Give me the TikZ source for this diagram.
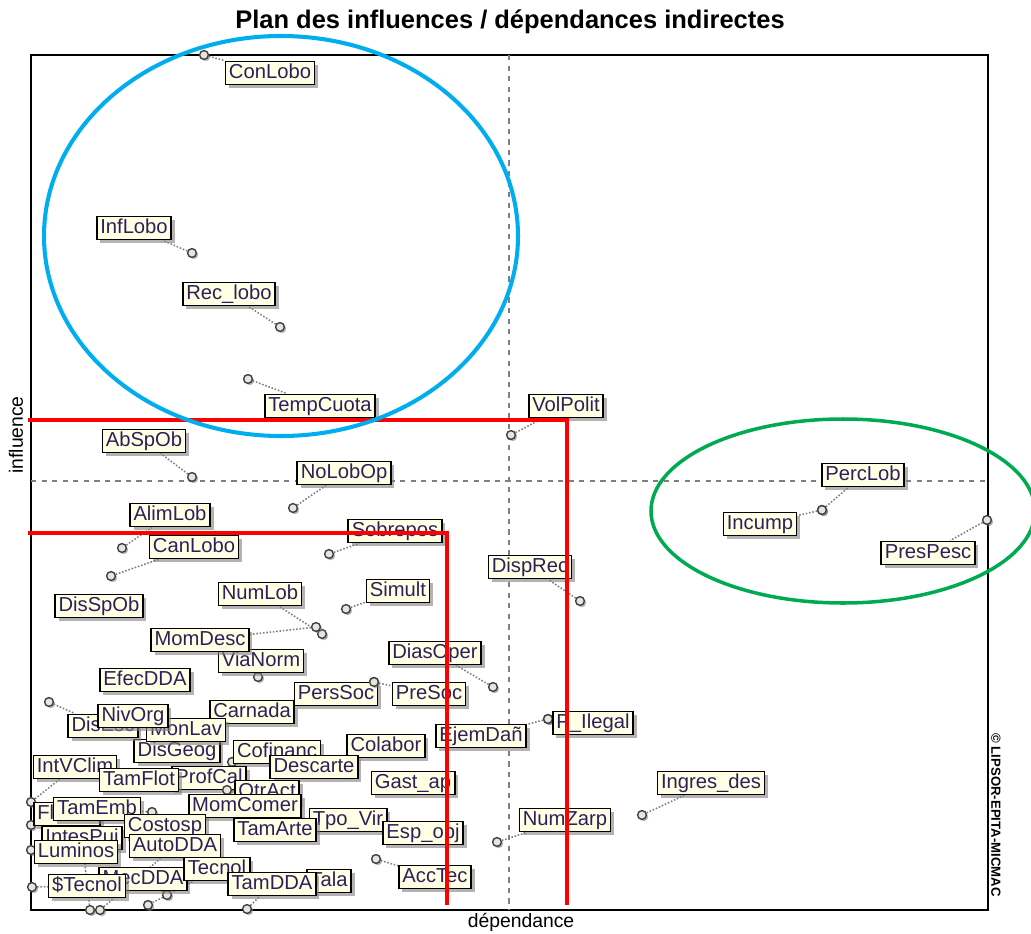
\documentclass[tikz,border=0pt]{standalone}
\usepackage{fontspec}
\setmainfont{Liberation Sans}
\usetikzlibrary{shadows}
\definecolor{labelfill}{RGB}{255,255,228}
\definecolor{labeltext}{RGB}{45,30,95}
\definecolor{clusterblue}{RGB}{0,174,239}
\definecolor{clustergreen}{RGB}{0,170,80}
\definecolor{cutred}{RGB}{255,0,0}
\pgfdeclarelayer{background}
\pgfsetlayers{background,main}

\begin{document}
\begin{tikzpicture}[x=0.02cm, y=-0.02cm,
  varbox/.style={draw=black, line width=0.9pt, fill=labelfill, text=labeltext,
    font=\fontsize{11.5}{12}\selectfont, inner xsep=2pt, inner ysep=1.2pt,
    text height=8.4pt, text depth=2.4pt,
    drop shadow={shadow xshift=2pt, shadow yshift=-2pt, fill=black!50, opacity=0.6}},
  varpt/.style={circle, draw=black!75, fill=yellow!10!gray!25, line width=0.8pt,
    inner sep=0pt, minimum size=5pt,
    drop shadow={shadow xshift=1pt, shadow yshift=-1pt, fill=black!50, opacity=0.6}},
  link/.style={densely dotted, gray, line width=0.9pt},
  cutline/.style={cutred, line width=2.4pt}]
\useasboundingbox (0,0) rectangle (1031,933);

% Title and axes
\node[font=\fontsize{14.5}{16}\selectfont\bfseries] (title) at (510,22) {Plan des influences / dépendances indirectes};
\draw[line width=0.8pt] (31,55) rectangle (988,910);
\draw[dashed, gray, line width=0.6pt] (509,55) -- (509,910);
\draw[dashed, gray, line width=0.6pt] (31,481) -- (988,481);
\node[rotate=90, font=\fontsize{11}{12}\selectfont] (ylabel) at (16,435) {influence};
\node[font=\fontsize{11}{12}\selectfont] (xlabel) at (521,922) {dépendance};
\node[rotate=-90, font=\fontsize{7.5}{8}\selectfont\bfseries] (lipsor) at (996,815) {© LIPSOR-EPITA-MICMAC};

% Variables: name/label/label x/label y/point x/point y
\foreach \nm/\txt/\lx/\ly/\px/\py in {
  conlobo/ConLobo/270/73/204/55,
  inflobo/InfLobo/134/228/192/253,
  reclobo/{Rec\_lobo}/229/294/280/327,
  tempcuota/TempCuota/320/406/248/379,
  volpolit/VolPolit/566/406/511/435,
  abspob/AbSpOb/144/441/192/477,
  nolobop/NoLobOp/344/473/293/508,
  alimlob/AlimLob/170/515/122/548,
  canlobo/CanLobo/194/547/111/576,
  sobrepos/Sobrepos/395/531/329/554,
  disprec/DispRec/530/567/580/601,
  disspob/DisSpOb/99/606/99/610,
  numlob/NumLob/260/594/322/634,
  simult/Simult/398/591/346/609,
  perclob/PercLob/863/475/822/510,
  incump/Incump/760/524/822/510,
  prespesc/PresPesc/928/553/987/520,
  vianorm/ViaNorm/261/661/258/677,
  momdesc/MomDesc/200/640/316/627,
  diasoper/DiasOper/435/653/493/687,
  efecdda/EfecDDA/145/680/145/684,
  carnada/Carnada/252/712/252/716,
  perssoc/PersSoc/336/694/374/682,
  presoc/PreSoc/429/694/374/682,
  disgeog/DisGeog/177/751/177/755,
  disesc/DisEsc/103/726/49/702,
  monlav/MonLav/186/730/186/734,
  nivorg/NivOrg/133/716/133/720,
  colabor/Colabor/386/746/386/750,
  ejemdan/EjemDañ/481/736/548/719,
  pilegal/{P\_Ilegal}/593/723/548/719,
  cofinanc/Cofinanc/277/752/232/762,
  descarte/Descarte/314/767/328/772,
  intvclim/IntVClim/75/767/31/802,
  profcal/ProfCal/209/778/209/782,
  tamflot/TamFlot/139/780/139/784,
  otract/OtrAct/267/792/227/790,
  gastap/{Gast\_ap}/413/783/413/787,
  momcomer/MomComer/245/806/245/810,
  flotart/FlotArt/67/814/31/825,
  tamemb/TamEmb/97/809/152/812,
  intespui/IntesPui/82/838/90/910,
  costosp/Costosp/165/826/165/830,
  luminos/Luminos/76/852/31/850,
  autodda/AutoDDA/175/846/100/910,
  tpovir/{Tpo\_Vir}/348/820/348/824,
  tamarte/TamArte/275/830/275/834,
  espobj/{Esp\_obj}/423/833/423/837,
  numzarp/NumZarp/565/820/497/842,
  ingresdes/{Ingres\_des}/711/783/642/815,
  mecdda/MecDDA/143/879/167/895,
  tecnolcost/{\$Tecnol}/87/886/32/887,
  tecnol/Tecnol/217/869/148/905,
  acctec/AccTec/435/877/376/859,
  tala/Tala/329/881/329/885,
  tamdda/TamDDA/272/884/247/909} {
  \node[varpt] (\nm-pt) at (\px,\py) {};
  \node[varbox] (\nm) at (\lx,\ly) {\txt};
  \begin{pgfonlayer}{background}
    \draw[link] (\nm-pt) -- (\nm);
  \end{pgfonlayer}
}

% Cut-off lines
\draw[cutline] (28,420) -- (567,420) -- (567,905);
\draw[cutline] (28,533) -- (447,533) -- (447,905);

% Clusters
\draw[clusterblue, line width=2.3pt] (281,236) ellipse [x radius=237, y radius=200];
\draw[clustergreen, line width=2pt] (843,511) ellipse [x radius=192, y radius=92];
\end{tikzpicture}
\end{document}
